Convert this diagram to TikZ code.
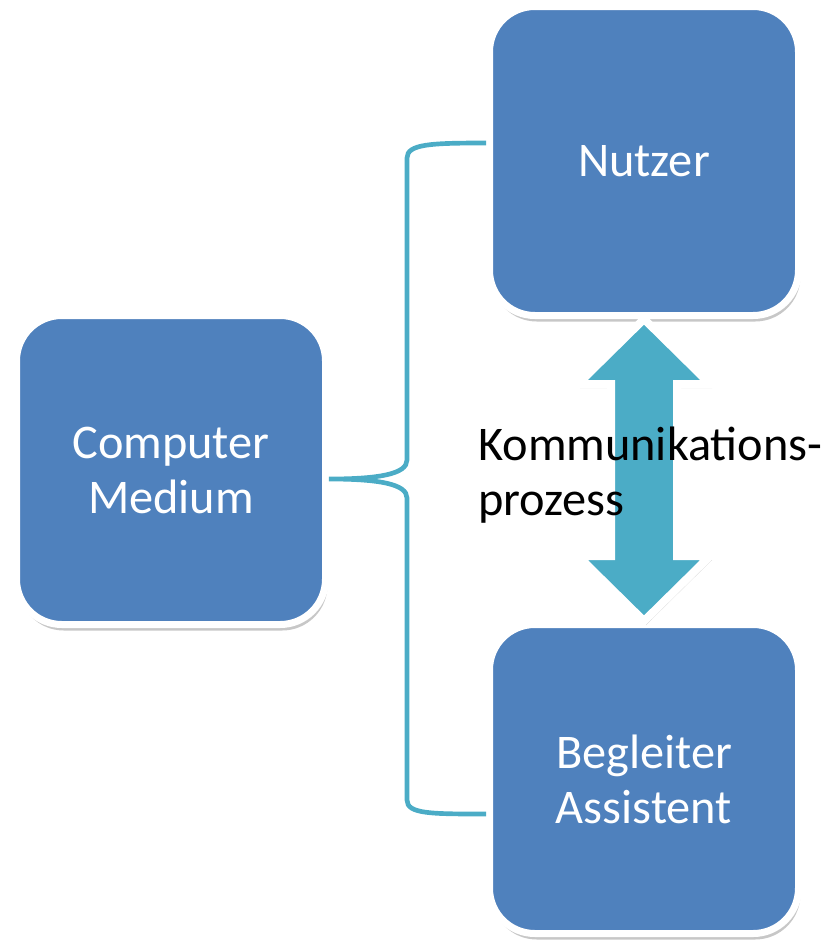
\documentclass[tikz,border=0pt]{standalone}
\usepackage{fontspec}
\setmainfont{Carlito}
\usepackage{tikz}
\usetikzlibrary{positioning, shadows, calc}
\usepackage{xcolor}

\definecolor{boxblue}{HTML}{4F81BD}
\definecolor{flowteal}{HTML}{4BACC6}

\begin{document}
\begin{tikzpicture}[
    x=0.75pt, y=-0.75pt,
    box/.style = {rectangle, draw=white, fill=boxblue, line width=5.25pt, rounded corners=34pt, align=center, text=white, font=\fontsize{36.25}{41.25}\selectfont, minimum width=231.75pt, minimum height=231.75pt, inner sep=0pt, drop shadow={shadow xshift=1.5pt, shadow yshift=-4.5pt, fill=black, opacity=0.22}},
    dblarrow/.style = {draw=white, fill=flowteal, line width=6pt, line join=miter, drop shadow={shadow xshift=1.5pt, shadow yshift=-3pt, fill=black, opacity=0.18}},
    brace/.style = {draw=flowteal, line width=3.5pt},
    note/.style = {align=left, text=black, inner sep=0pt, font=\fontsize{36.25}{41.25}\selectfont}
]

\useasboundingbox (0,0) rectangle (832,940);

% Boxes
\node (nutzer) [box, at={(644,161)}] {Nutzer};
\node (computer) [box, at={(171,470)}] {Computer\\Medium};
\node (begleiter) [box, at={(644,779)}] {Begleiter\\Assistent};

% Brace from the medium to both partners
\draw [brace] ($(nutzer.west)+(0,-18)$) .. controls +(-55,0) and +(0,-14) .. (407,158)
    -- (407,460) .. controls +(0,14) and +(50,0) .. ($(computer.east)+(0,9)$)
    .. controls +(50,0) and +(0,-14) .. (407,498)
    -- (407,800) .. controls +(0,14) and +(-55,0) .. ($(begleiter.west)+(0,35)$);

% Double arrow between the partners
\draw [dblarrow] (nutzer.south) -- ++(66,65) -- ++(-33,0) -- ($(begleiter.north)+(33,-65)$)
    -- ++(33,0) -- (begleiter.north) -- ++(-66,-65) -- ++(33,0)
    -- ($(nutzer.south)+(-33,65)$) -- ++(-33,0) -- cycle;

\node (komm) [note, anchor=west, at={(478,475)}] {Kommunikations-\\prozess};

\end{tikzpicture}
\end{document}
